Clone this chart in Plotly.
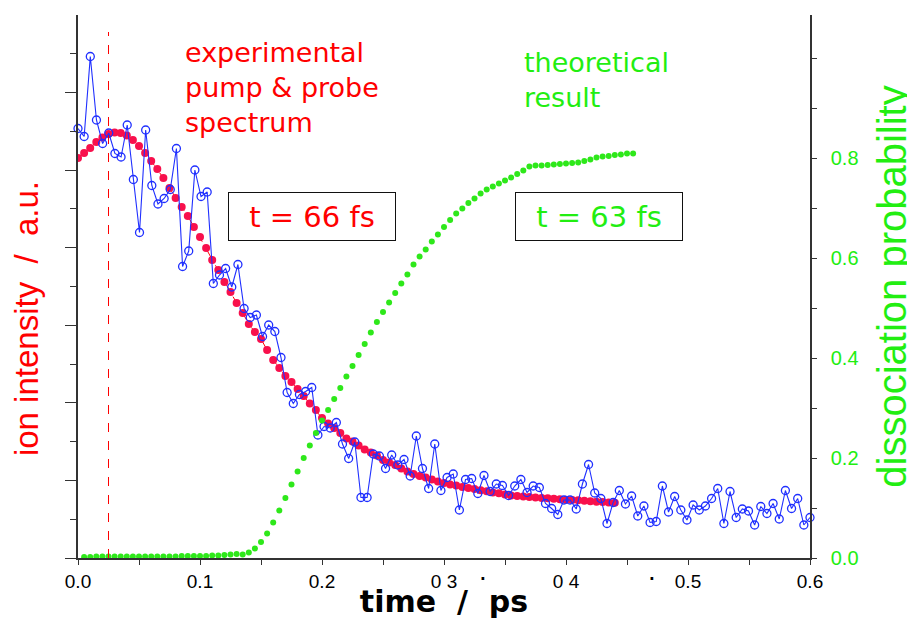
import numpy as np
import plotly.graph_objects as go

# ---------------- data ----------------
# experimental pump & probe ion signal (a.u.), sampled uniformly from 0 to 0.6 ps
exp_signal = [
    85.9, 84.3, 100.3, 87.6, 82.9, 85.0, 80.9, 80.2, 86.6, 75.7,
    65.1, 85.6, 74.5, 70.8, 71.9, 73.7, 81.9, 58.3, 61.4, 77.6,
    72.3, 73.2, 54.9, 56.6, 57.9, 54.2, 58.7, 49.9, 48.1, 48.6,
    44.3, 46.6, 45.3, 40.1, 33.1, 30.9, 32.7, 33.3, 34.1, 24.6,
    26.3, 26.0, 27.1, 22.8, 19.9, 23.2, 12.1, 12.1, 20.8, 20.4,
    17.9, 20.6, 18.6, 19.7, 16.4, 24.4, 17.9, 13.9, 22.8, 13.5,
    16.1, 16.8, 9.6, 15.7, 15.9, 12.9, 16.5, 13.3, 14.8, 14.5,
    12.5, 14.4, 15.7, 13.1, 14.4, 14.1, 10.9, 9.9, 8.7, 11.6,
    11.6, 9.8, 14.8, 18.7, 13.0, 11.9, 6.9, 11.1, 13.5, 10.8,
    12.4, 8.4, 10.4, 7.1, 7.3, 14.4, 9.2, 12.3, 9.6, 7.6,
    10.6, 9.6, 10.4, 11.9, 13.9, 6.9, 13.3, 8.1, 9.8, 9.4,
    6.6, 10.3, 8.9, 10.9, 7.8, 13.5, 9.9, 11.9, 6.6, 8.1,
]
exp_t_start, exp_t_end = 0.0, 0.6

# fitted curve (a.u.), step 0.005 ps from 0
fit_step = 0.005
fit_signal = [
    80.0, 81.0, 82.0, 83.2, 84.1, 84.8, 85.1, 85.0, 84.5, 83.6,
    82.4, 81.0, 79.4, 77.8, 76.0, 74.0, 72.0, 70.2, 68.4, 66.2,
    64.2, 62.0, 59.6, 57.6, 55.2, 53.2, 51.0, 49.0, 46.8, 45.2,
    43.8, 41.6, 39.6, 38.0, 36.4, 35.2, 33.8, 32.4, 30.9, 29.6,
    28.0, 26.9, 26.0, 25.0, 23.9, 23.3, 22.5, 21.7, 21.1, 20.5,
    19.6, 19.1, 18.6, 17.9, 17.3, 16.8, 16.4, 16.1, 15.7, 15.3,
    15.0, 14.7, 14.5, 14.2, 14.0, 13.8, 13.56, 13.34, 13.1, 12.94,
    12.7, 12.5, 12.4, 12.3, 12.2, 12.1, 12.0, 11.94, 11.86, 11.76,
    11.66, 11.6, 11.54, 11.46, 11.36, 11.26, 11.2, 11.12, 11.04,
]

# theoretical dissociation probability, step 0.005 ps starting at 0.005
theo_step = 0.005
theo_prob = [
    0.002, 0.002, 0.003, 0.003, 0.003, 0.003, 0.003, 0.003, 0.003, 0.003,
    0.003, 0.003, 0.003, 0.003, 0.003, 0.003, 0.004, 0.004, 0.004, 0.004,
    0.004, 0.005, 0.005, 0.006, 0.007, 0.008, 0.007, 0.011, 0.019, 0.032,
    0.049, 0.071, 0.095, 0.120, 0.147, 0.173, 0.200, 0.225, 0.250, 0.275,
    0.296, 0.318, 0.340, 0.363, 0.384, 0.406, 0.428, 0.451, 0.472, 0.492,
    0.511, 0.530, 0.549, 0.567, 0.587, 0.603, 0.617, 0.633, 0.647, 0.662,
    0.676, 0.689, 0.699, 0.710, 0.719, 0.729, 0.737, 0.743, 0.749, 0.755,
    0.761, 0.768, 0.775, 0.783, 0.785, 0.785, 0.786, 0.787, 0.788, 0.789,
    0.790, 0.791, 0.794, 0.797, 0.801, 0.803, 0.804, 0.806, 0.807, 0.809,
    0.809,
]

time_zero = 0.025           # dashed marker of pump-probe overlap
x_tick_vals = [0.0, 0.1, 0.2, 0.3, 0.4, 0.5, 0.6]
x_tick_text = ["0.0", "0.1", "0.2", "0 3", "0 4", "0.5", "0.6"]
p_tick_vals = [0.0, 0.2, 0.4, 0.6, 0.8]
p_tick_text = ["0.0", "0.2", "0.4", "0.6", "0.8"]

# ---------------- derived sample times ----------------
t_exp = np.linspace(exp_t_start, exp_t_end, len(exp_signal))
t_fit = np.round(np.arange(len(fit_signal)) * fit_step, 4)
t_theo = np.round((np.arange(len(theo_prob)) + 1) * theo_step, 4)

RED = "#ff0000"
RED_DOT = "#f8104c"
BLUE = "#1f2fff"
GREEN = "#2ee81a"
GREEN_TXT = "#22ee11"
AXC = "#333333"

fig = go.Figure()

fig.add_trace(go.Scatter(
    x=t_fit, y=fit_signal, mode="lines+markers", name="fit",
    line=dict(color=RED, width=1, dash="dash"),
    marker=dict(color=RED_DOT, size=8, line=dict(width=0)),
    yaxis="y", xaxis="x", showlegend=False,
))
fig.add_trace(go.Scatter(
    x=t_exp, y=exp_signal, mode="lines+markers", name="experiment",
    line=dict(color=BLUE, width=1.1),
    marker=dict(symbol="circle-open", color=BLUE, size=8, line=dict(width=1.3)),
    yaxis="y", xaxis="x", showlegend=False, cliponaxis=False,
))
fig.add_trace(go.Scatter(
    x=t_theo, y=theo_prob, mode="markers", name="theory",
    marker=dict(color=GREEN, size=6, line=dict(width=0)),
    yaxis="y2", xaxis="x", showlegend=False,
))

# dashed time-zero line
fig.add_shape(type="line", xref="x", yref="y", x0=time_zero, x1=time_zero,
              y0=0, y1=105.2, line=dict(color=RED, width=1, dash="dash"))

ann_font = "DejaVu Sans"
fig.add_annotation(xref="paper", yref="paper", x=0.1434, y=0.964,
                   xanchor="left", yanchor="top", align="left", showarrow=False,
                   text="experimental<br>pump &amp; probe<br>spectrum",
                   font=dict(family=ann_font, size=27, color=RED))
fig.add_annotation(xref="paper", yref="paper", x=0.6066, y=0.944,
                   xanchor="left", yanchor="top", align="left", showarrow=False,
                   text="theoretical<br>result",
                   font=dict(family=ann_font, size=27, color=GREEN_TXT))
fig.add_annotation(xref="paper", yref="paper", x=0.3197, y=0.6289,
                   xanchor="center", yanchor="middle",
                   showarrow=False, text="t = 66 fs", width=162, height=43,
                   bordercolor="#111111", borderwidth=1, borderpad=2, bgcolor="white",
                   font=dict(family=ann_font, size=29, color=RED))
fig.add_annotation(xref="paper", yref="paper", x=0.7111, y=0.628,
                   xanchor="center", yanchor="middle",
                   showarrow=False, text="t = 63 fs", width=162, height=43,
                   bordercolor="#111111", borderwidth=1, borderpad=2, bgcolor="white",
                   font=dict(family=ann_font, size=29, color=GREEN_TXT))
# stray decimal points of the original axis labels
for px in (0.5533, 0.7842):
    fig.add_annotation(xref="paper", yref="paper", x=px, y=-0.031, showarrow=False,
                       xanchor="center", yanchor="middle",
                       text="<b>.</b>", font=dict(family="DejaVu Sans", size=15, color="black"))
# left axis title (placed as in the original, slightly below the axis centre)
fig.add_annotation(xref="paper", yref="paper", x=-0.071, y=0.44, showarrow=False,
                   xanchor="center", yanchor="middle", textangle=-90,
                   text="ion intensity\u00a0\u00a0/\u00a0\u00a0a.u.",
                   font=dict(family="Liberation Sans", size=33, color=RED))

# the page body adds an 8 px offset; the figure is sized to fill the rest
fig.update_layout(
    width=907, height=611,
    margin=dict(l=70, r=105, t=7, b=61, autoexpand=False),
    paper_bgcolor="white", plot_bgcolor="white",
    showlegend=False,
    xaxis=dict(
        range=[0, 0.6], tickmode="array", tickvals=x_tick_vals, ticktext=x_tick_text,
        ticks="outside", ticklen=5, tickcolor=AXC, automargin=False,
        minor=dict(dtick=0.05, tick0=0, ticks="outside", ticklen=5, tickcolor=AXC),
        showline=True, linecolor=AXC, linewidth=1.5, showgrid=False, zeroline=False,
        tickfont=dict(family="Liberation Sans", size=19, color="black"),
        title=dict(text="time\u00a0\u00a0/\u00a0\u00a0ps", standoff=12,
                   font=dict(family="DejaVu Sans", size=30, color="black", weight="bold")),
    ),
    xaxis2=dict(
        overlaying="x", side="top", anchor="y", range=[0, 0.6],
        tickmode="linear", tick0=0, dtick=0.05, ticks="inside", ticklen=5, tickcolor=AXC,
        showticklabels=False, showline=True, linecolor=AXC, linewidth=1.5,
        showgrid=False, zeroline=False, automargin=False,
    ),
    yaxis=dict(
        range=[0, 108.6], tickmode="linear", tick0=0, dtick=15.516,
        ticks="outside", ticklen=11, tickcolor=AXC, showticklabels=False,
        minor=dict(dtick=7.758, tick0=0, ticks="outside", ticklen=6, tickcolor=AXC),
        showline=True, linecolor=AXC, linewidth=1.5, showgrid=False, zeroline=False,
        automargin=False,
    ),
    yaxis2=dict(
        overlaying="y", side="right", anchor="x", range=[0, 1.086],
        tickmode="array", tickvals=p_tick_vals, ticktext=p_tick_text,
        ticks="outside", ticklen=5, tickcolor=AXC, automargin=False,
        ticklabelstandoff=10,
        minor=dict(dtick=0.1, tick0=0, ticks="outside", ticklen=5, tickcolor=AXC),
        showline=True, linecolor=AXC, linewidth=1.5, showgrid=False, zeroline=False,
        tickfont=dict(family="Liberation Sans", size=20, color=GREEN_TXT),
        title=dict(text="dissociation probability", standoff=20,
                   font=dict(family="Liberation Sans", size=40, color=GREEN_TXT)),
    ),
)

fig.write_html("out.html")
